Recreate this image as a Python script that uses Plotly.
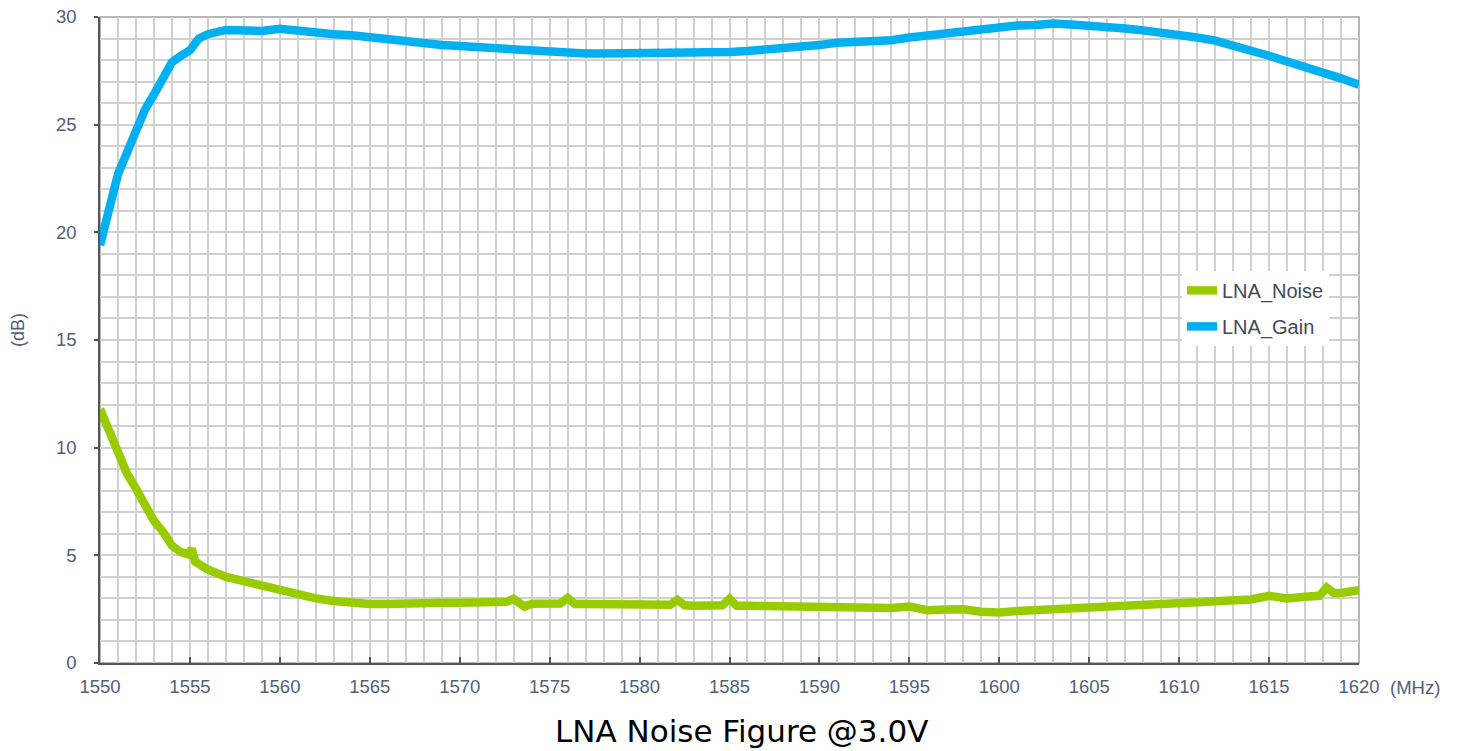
import plotly.graph_objects as go

# ---- data ----
gain_freq = [1550, 1550.5, 1551, 1551.5, 1552, 1552.5, 1553, 1553.5, 1554, 1554.5, 1555, 1555.5,
             1556, 1557, 1558, 1559, 1560, 1561, 1562, 1563, 1564, 1565, 1566, 1567, 1568, 1569,
             1570, 1571, 1572, 1573, 1574, 1575, 1576, 1577, 1578, 1579, 1580, 1581, 1582, 1583,
             1584, 1585, 1586, 1587, 1588, 1589, 1590, 1591, 1592, 1593, 1594, 1595, 1596, 1597,
             1598, 1599, 1600, 1601, 1602, 1603, 1604, 1605, 1606, 1607, 1608, 1609, 1610, 1611,
             1612, 1613, 1614, 1615, 1616, 1617, 1618, 1619, 1620]
gain_db = [19.4, 21.1, 22.7, 23.7, 24.7, 25.7, 26.4, 27.1, 27.9, 28.2, 28.45, 29.0,
           29.2, 29.4, 29.4, 29.35, 29.45, 29.35, 29.3, 29.2, 29.15, 29.05, 28.95, 28.9, 28.8, 28.7,
           28.65, 28.6, 28.55, 28.5, 28.45, 28.35, 28.3, 28.3, 28.3, 28.3, 28.28, 28.28, 28.3, 28.33,
           28.35, 28.37, 28.42, 28.47, 28.52, 28.6, 28.7, 28.8, 28.85, 28.85, 28.92, 29.05, 29.15, 29.25,
           29.33, 29.45, 29.58, 29.6, 29.63, 29.7, 29.65, 29.62, 29.55, 29.47, 29.38, 29.3, 29.2, 29.05,
           28.9, 28.7, 28.5, 28.2, 27.93, 27.7, 27.45, 27.15, 26.85]

noise_freq = [1550, 1550.25, 1550.5, 1550.75, 1551, 1551.5, 1552, 1552.5, 1553, 1553.5, 1554, 1554.5,
              1554.9, 1555.1, 1555.3, 1556, 1557, 1558, 1559, 1560, 1561, 1562, 1563, 1564, 1565,
              1566, 1567, 1568, 1569, 1570, 1571, 1572, 1572.6, 1573, 1573.6, 1574, 1575, 1575.6,
              1576, 1576.4, 1577, 1578, 1579, 1580, 1581, 1581.7, 1582.1, 1582.5, 1583, 1584, 1584.6,
              1585, 1585.4, 1586, 1587, 1588, 1589, 1590, 1591, 1592, 1593, 1594, 1595, 1596, 1597,
              1598, 1599, 1600, 1601, 1602, 1603, 1604, 1605, 1606, 1607, 1608, 1609, 1610, 1611,
              1612, 1613, 1614, 1615, 1616, 1617, 1617.8, 1618.2, 1618.6, 1619, 1620]
noise_db = [11.8, 11.3, 10.7, 10.1, 9.6, 8.8, 8.1, 7.3, 6.6, 6.1, 5.45, 5.15,
            5.05, 5.3, 4.7, 4.35, 4.0, 3.8, 3.6, 3.35, 3.15, 3.0, 2.88, 2.78, 2.74,
            2.74, 2.78, 2.8, 2.8, 2.8, 2.82, 2.83, 2.84, 2.98, 2.62, 2.75, 2.75, 2.76,
            3.02, 2.74, 2.74, 2.72, 2.7, 2.68, 2.7, 2.7, 2.94, 2.68, 2.66, 2.68, 2.68,
            2.98, 2.66, 2.66, 2.65, 2.63, 2.6, 2.58, 2.6, 2.6, 2.52, 2.55, 2.62, 2.45, 2.48,
            2.5, 2.38, 2.35, 2.42, 2.45, 2.52, 2.57, 2.62, 2.65, 2.68, 2.68, 2.7, 2.78, 2.82,
            2.87, 2.92, 2.95, 3.12, 3.0, 3.08, 3.12, 3.5, 3.25, 3.25, 3.38]

x_ticks = [1550, 1555, 1560, 1565, 1570, 1575, 1580, 1585, 1590, 1595, 1600, 1605, 1610, 1615, 1620]
y_ticks = [0, 5, 10, 15, 20, 25, 30]

title_text = "LNA Noise Figure @3.0V"
x_unit = "(MHz)"
y_unit = "(dB)"

NOISE_COLOR = "#99cc00"
GAIN_COLOR = "#00b0f0"
TICK_COLOR = "#52607a"
GRID_COLOR = "#d0d0d0"

# The page body adds an 8px offset; figure is sized/positioned to compensate.
fig = go.Figure()
fig.add_trace(go.Scatter(x=noise_freq, y=noise_db, mode="lines", name="LNA_Noise",
                         legendgroup="noise",
                         line=dict(color=NOISE_COLOR, width=8.5)))
fig.add_trace(go.Scatter(x=gain_freq, y=gain_db, mode="lines", name="LNA_Gain",
                         legendgroup="gain",
                         line=dict(color=GAIN_COLOR, width=8.5)))

fig.update_layout(
    width=1452, height=743,
    margin=dict(l=92, r=101, t=9, b=88, autoexpand=False),
    paper_bgcolor="white", plot_bgcolor="white",
    font=dict(family="Liberation Sans, Arial, sans-serif", color=TICK_COLOR, size=18),
    showlegend=True,
    legend=dict(x=0.8594, y=0.607, xanchor="left", yanchor="top",
                bgcolor="white", borderwidth=0, traceorder="grouped",
                font=dict(size=20, color="#3d4a5c"), tracegroupgap=7),
    xaxis=dict(range=[1550, 1620], tickvals=x_ticks, ticktext=[str(v) for v in x_ticks],
               showgrid=True, gridcolor=GRID_COLOR, gridwidth=1.5,
               minor=dict(dtick=1, showgrid=True, gridcolor=GRID_COLOR, gridwidth=1.5),
               showline=True, linecolor="#555555", linewidth=1.5,
               ticks="inside", ticklen=6, tickcolor="#555555", tickwidth=1.5,
               ticklabelstandoff=6, zeroline=False, ticklabeloverflow="allow", automargin=False,
               tickfont=dict(size=18.5, color=TICK_COLOR)),
    yaxis=dict(range=[0, 30], tickvals=y_ticks, ticktext=[str(v) for v in y_ticks],
               showgrid=True, gridcolor=GRID_COLOR, gridwidth=1.5,
               minor=dict(dtick=1, showgrid=True, gridcolor=GRID_COLOR, gridwidth=1.5),
               showline=True, linecolor="#555555", linewidth=1.5,
               ticks="outside", ticklen=4, tickcolor="#555555", tickwidth=1.5,
               ticklabelstandoff=14, zeroline=False, ticklabeloverflow="allow", automargin=False,
               tickfont=dict(size=18.5, color=TICK_COLOR)),
    shapes=[dict(type="rect", xref="paper", yref="paper", x0=0, x1=1, y0=0, y1=1,
                 line=dict(color="#a0a0a0", width=1.5), layer="below")],
    annotations=[
        dict(text=title_text, xref="paper", yref="paper", x=(741 - 100) / 1259, y=-(731 - 663) / 646,
             xanchor="center", yanchor="middle", showarrow=False,
             font=dict(family="DejaVu Sans, Verdana, sans-serif", size=31, color="black")),
        dict(text=x_unit, xref="paper", yref="paper", x=(1415 - 100) / 1259, y=-(687 - 663) / 646,
             xanchor="center", yanchor="middle", showarrow=False,
             font=dict(size=18.5, color=TICK_COLOR)),
        dict(text=y_unit, xref="paper", yref="paper", x=-(100 - 18) / 1259, y=(663 - 330) / 646,
             xanchor="center", yanchor="middle", showarrow=False, textangle=-90,
             font=dict(size=18, color=TICK_COLOR)),
    ],
)

fig.write_html("out.html")
